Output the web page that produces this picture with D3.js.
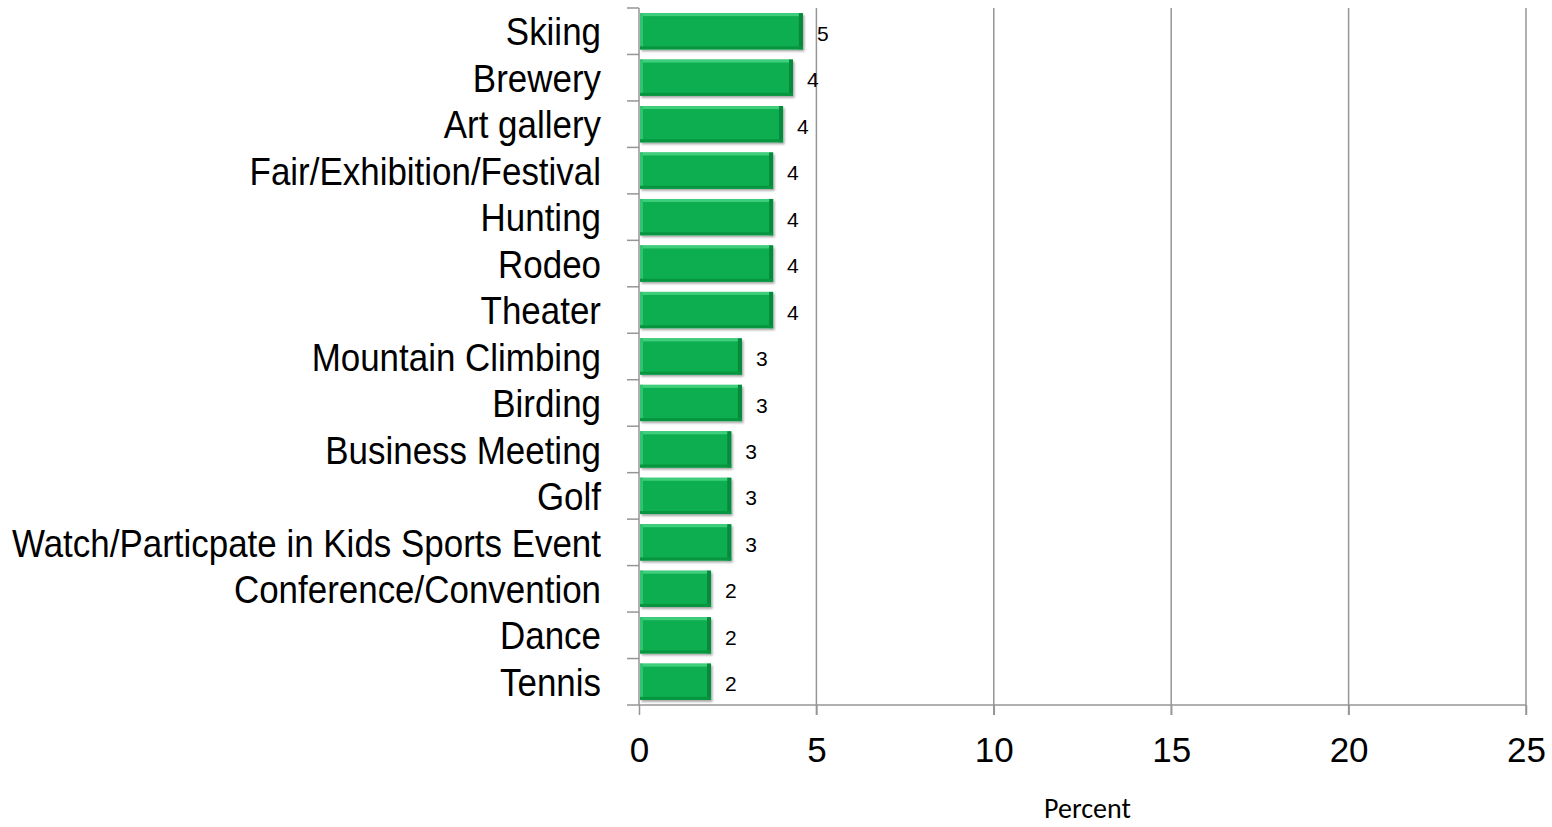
<!DOCTYPE html>
<html>
<head>
<meta charset="utf-8">
<script src="https://cdn.jsdelivr.net/npm/d3@7"></script>
<style>
  body { margin: 0; background: #fff; }
  svg { display: block; }
</style>
</head>
<body>
<div id="canvas"></div>
<script>
// data
const categories = ["Skiing", "Brewery", "Art gallery", "Fair/Exhibition/Festival", "Hunting", "Rodeo", "Theater",
  "Mountain Climbing", "Birding", "Business Meeting", "Golf", "Watch/Particpate in Kids Sports Event",
  "Conference/Convention", "Dance", "Tennis"];
const percents = [4.62, 4.34, 4.06, 3.78, 3.78, 3.78, 3.78, 2.9, 2.9, 2.6, 2.6, 2.6, 2.03, 2.03, 2.03];
const xTicks = [0, 5, 10, 15, 20, 25];

const W = 1552, H = 827;
const pLeft = 639, pRight = 1526, pTop = 8, pBottom = 705;

const svg = d3.select("#canvas").append("svg")
  .attr("width", W).attr("height", H);

const x = d3.scaleLinear().domain([0, 25]).range([pLeft, pRight]);
const y = d3.scaleBand().domain(categories).range([pTop, pBottom]).paddingInner(0.22).paddingOuter(0.11);

const defs = svg.append("defs");
const f = defs.append("filter").attr("id", "shadow").attr("x", "-5%").attr("y", "-20%").attr("width", "115%").attr("height", "150%");
f.append("feDropShadow").attr("dx", 1.5).attr("dy", 2).attr("stdDeviation", 1.2)
  .attr("flood-color", "#000").attr("flood-opacity", 0.35);

// grid lines
svg.append("g")
  .selectAll("line")
  .data(xTicks.slice(1))
  .join("line")
    .attr("x1", d => x(d)).attr("x2", d => x(d))
    .attr("y1", pTop).attr("y2", pBottom + 10)
    .attr("stroke", "#969696").attr("stroke-width", 1.5);

// bars
const bars = svg.append("g")
  .selectAll("g")
  .data(categories.map((c, i) => ({ c, v: percents[i] })))
  .join("g");

bars.append("rect")
  .attr("x", x(0) + 1)
  .attr("y", d => y(d.c))
  .attr("width", d => x(d.v) - x(0) - 1)
  .attr("height", y.bandwidth())
  .attr("fill", "#0aae50")
  .attr("filter", "url(#shadow)");
// bevel: light top/left, dark right/bottom
bars.append("rect")
  .attr("x", x(0) + 1).attr("y", d => y(d.c))
  .attr("width", d => x(d.v) - x(0) - 1).attr("height", 3)
  .attr("fill", "#3fcf7c");
bars.append("rect")
  .attr("x", x(0) + 1).attr("y", d => y(d.c))
  .attr("width", 3).attr("height", y.bandwidth())
  .attr("fill", "#2fc470");
bars.append("rect")
  .attr("x", d => x(d.v) - 4).attr("y", d => y(d.c))
  .attr("width", 4).attr("height", y.bandwidth())
  .attr("fill", "#078a3d");
bars.append("rect")
  .attr("x", x(0) + 1).attr("y", d => y(d.c) + y.bandwidth() - 3)
  .attr("width", d => x(d.v) - x(0) - 1).attr("height", 3)
  .attr("fill", "#08953f");

// value labels
bars.append("text")
  .attr("x", d => x(d.v) + 14)
  .attr("y", d => y(d.c) + y.bandwidth() / 2 + 2)
  .attr("dy", "0.36em")
  .attr("font-family", "Liberation Sans, Arial, sans-serif")
  .attr("font-size", 21)
  .attr("fill", "#000")
  .text(d => Math.round(d.v));

// y axis
const yAxis = d3.axisLeft(y).tickSize(0).tickPadding(0);
const gy = svg.append("g").attr("transform", `translate(${pLeft},0)`).call(yAxis);
gy.select(".domain").attr("stroke", "#969696").attr("stroke-width", 1.5).attr("d", `M0,${pTop}V${pBottom}`);
const yLabels = gy.selectAll("text")
  .attr("font-family", "Liberation Sans, Arial, sans-serif")
  .attr("font-size", 38)
  .attr("fill", "#000")
  .attr("x", 0);
// narrow the labels so the longest one fits like the original's condensed face
const longest = d3.max(yLabels.nodes(), n => n.getComputedTextLength());
const sx = 589 / longest;
yLabels.attr("transform", `translate(-38,2) scale(${sx},1)`);

// category separators
const step = y.step();
svg.append("g")
  .selectAll("line")
  .data(d3.range(categories.length))
  .join("line")
    .attr("x1", pLeft - 12).attr("x2", pLeft)
    .attr("y1", i => pTop + i * step).attr("y2", i => pTop + i * step)
    .attr("stroke", "#969696").attr("stroke-width", 1.5);

// x axis
const xAxis = d3.axisBottom(x).tickValues(xTicks).tickSize(10).tickPadding(22);
const gx = svg.append("g").attr("transform", `translate(0,${pBottom})`).call(xAxis);
gx.select(".domain").attr("stroke", "#969696").attr("stroke-width", 1.5).attr("d", `M${pLeft - 12},0H${pRight}`);
gx.selectAll(".tick line").attr("stroke", "#969696").attr("stroke-width", 1.5);
gx.selectAll("text")
  .attr("font-family", "Liberation Sans, Arial, sans-serif")
  .attr("font-size", 35)
  .attr("fill", "#000");

svg.append("text")
  .attr("x", (pLeft + pRight) / 2 + 5)
  .attr("y", 818)
  .attr("text-anchor", "middle")
  .attr("font-family", "Carlito, Lato, sans-serif")
  .attr("font-size", 28)
  .attr("fill", "#000")
  .text("Percent");
</script>
</body>
</html>
